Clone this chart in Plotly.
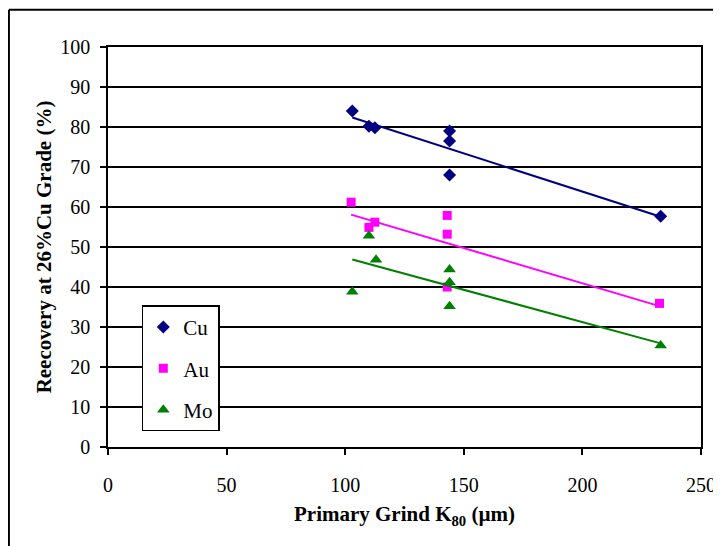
import numpy as np
import plotly.graph_objects as go

# ---- data ----
cu_x = [103, 110, 112.5, 144, 144, 144, 233]
cu_y = [84, 80.2, 79.8, 79, 76.5, 68, 57.7]
au_x = [102.5, 110, 112.5, 143, 143, 143, 232.5]
au_y = [61.2, 54.9, 56.2, 57.9, 53.2, 40, 35.9]
mo_x = [103, 110, 113, 144, 144, 144, 233]
mo_y = [38.8, 52.8, 46.8, 44.4, 41.2, 35.2, 25.4]

series = [
    ("Cu", cu_x, cu_y, "#000080", "diamond", 10),
    ("Au", au_x, au_y, "#ff00ff", "square", 9),
    ("Mo", mo_x, mo_y, "#008000", "triangle-up", 11),
]

x_ticks = [0, 50, 100, 150, 200, 250]
y_ticks = [0, 10, 20, 30, 40, 50, 60, 70, 80, 90, 100]

FONT = "Liberation Serif, Times New Roman, serif"

fig = go.Figure()
for i, (name, xs, ys, col, sym, sz) in enumerate(series):
    fig.add_trace(go.Scatter(
        x=xs, y=ys, mode="markers", name=name,
        marker=dict(color=col, symbol=sym, size=sz, line=dict(width=0)),
        legendgroup=name,
    ))
for name, xs, ys, col, sym, sz in series:
    k, b = np.polyfit(xs, ys, 1)
    xl = [min(xs), max(xs)]
    fig.add_trace(go.Scatter(
        x=xl, y=[k * v + b for v in xl], mode="lines",
        line=dict(color=col, width=2), showlegend=False, hoverinfo="skip",
    ))

# outer frame (left & top edges visible in reference)
fig.add_shape(type="line", xref="paper", yref="paper",
              x0=-0.1671, x1=1.1, y0=1.093, y1=1.093,
              line=dict(color="black", width=2))
fig.add_shape(type="line", xref="paper", yref="paper",
              x0=-0.1671, x1=-0.1671, y0=1.093, y1=-0.3,
              line=dict(color="black", width=2))

fig.update_layout(
    width=713, height=538,
    margin=dict(l=100, r=20, t=39, b=99, autoexpand=False),
    paper_bgcolor="white", plot_bgcolor="white",
    font=dict(family=FONT, size=20, color="black"),
    showlegend=True,
    legend=dict(
        x=0.057, y=0.354, xanchor="left", yanchor="top",
        bgcolor="white", bordercolor="black", borderwidth=1.5,
        font=dict(family=FONT, size=21, color="black"),
        tracegroupgap=11, entrywidth=46,
    ),
    xaxis=dict(
        range=[0, 250], tickvals=x_ticks, ticktext=[str(v) for v in x_ticks],
        showgrid=False, zeroline=False, automargin=False,
        showline=True, linecolor="black", linewidth=1.5, mirror=True,
        ticks="outside", ticklen=6, tickcolor="black", tickwidth=1.5,
        ticklabelstandoff=13,
        title=dict(text="<b>Primary Grind K<sub>80</sub> (µm)</b>",
                   font=dict(family=FONT, size=21), standoff=12),
    ),
    yaxis=dict(
        range=[0, 100], tickvals=y_ticks, ticktext=[str(v) for v in y_ticks],
        showgrid=True, gridcolor="black", gridwidth=1.5, zeroline=False,
        automargin=False,
        showline=True, linecolor="black", linewidth=1.5, mirror=True,
        ticks="outside", ticklen=6, tickcolor="black", tickwidth=1.5,
        ticklabelstandoff=6,
        title=dict(text="<b>Reecovery at 26%Cu Grade (%)</b>",
                   font=dict(family=FONT, size=21), standoff=3),
    ),
)

fig.write_html("out.html")
